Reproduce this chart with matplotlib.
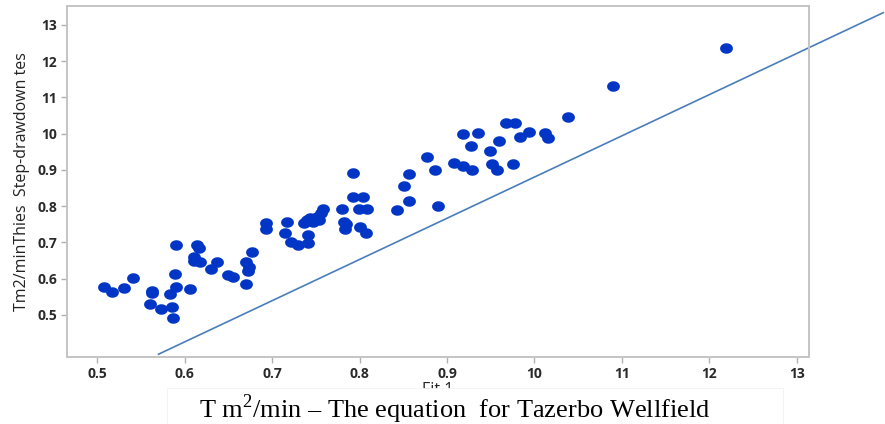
import numpy as np
import matplotlib
matplotlib.use("Agg")
import matplotlib.pyplot as plt
from matplotlib.path import Path
from matplotlib.patches import Rectangle
from matplotlib.font_manager import FontProperties

plt.rcParams["mathtext.fontset"] = "custom"
plt.rcParams["mathtext.rm"] = "Liberation Serif"

# fitted transmissivity (x) vs step-drawdown transmissivity (y)
fit_x = [0.508, 0.517, 0.531, 0.541, 0.563, 0.562, 0.560, 0.573, 0.583, 0.585,
         0.587, 0.590, 0.589, 0.590, 0.606, 0.614, 0.616, 0.611, 0.611, 0.618,
         0.630, 0.637, 0.650, 0.655, 0.670, 0.670, 0.673, 0.672, 0.677, 0.693,
         0.693, 0.717, 0.715, 0.721, 0.730, 0.741, 0.741, 0.736, 0.743, 0.747,
         0.753, 0.756, 0.758, 0.740, 0.751, 0.780, 0.782, 0.785, 0.783, 0.800,
         0.807, 0.792, 0.793, 0.804, 0.799, 0.808, 0.843, 0.856, 0.851, 0.857,
         0.877, 0.886, 0.890, 0.908, 0.918, 0.929, 0.918, 0.936, 0.927, 0.949,
         0.952, 0.957, 0.960, 0.968, 0.978, 0.994, 0.984, 0.976, 1.012, 1.016,
         1.038, 1.090, 1.219]
step_y = [0.576, 0.564, 0.575, 0.602, 0.567, 0.560, 0.530, 0.516, 0.558, 0.523,
          0.492, 0.578, 0.612, 0.694, 0.571, 0.694, 0.684, 0.661, 0.650, 0.646,
          0.626, 0.647, 0.610, 0.605, 0.586, 0.646, 0.633, 0.622, 0.674, 0.753,
          0.738, 0.756, 0.725, 0.701, 0.693, 0.698, 0.720, 0.753, 0.767, 0.757,
          0.762, 0.781, 0.792, 0.762, 0.771, 0.792, 0.757, 0.751, 0.738, 0.742,
          0.725, 0.893, 0.825, 0.825, 0.792, 0.792, 0.790, 0.814, 0.855, 0.889,
          0.937, 0.899, 0.800, 0.919, 0.910, 0.899, 0.999, 1.001, 0.967, 0.953,
          0.917, 0.900, 0.981, 1.030, 1.030, 1.005, 0.992, 0.917, 1.002, 0.989,
          1.047, 1.132, 1.237]

# reference line
line_x = [0.570, 1.399]
line_slope = 1.1365
line_icept = -0.256

xticks = [0.5, 0.6, 0.7, 0.8, 0.9, 1.0, 1.1, 1.2, 1.3]
xtick_labels = ["0.5", "0.6", "0.7", "0.8", "0.9", "10", "11", "12", "13"]
yticks = [0.5, 0.6, 0.7, 0.8, 0.9, 1.0, 1.1, 1.2, 1.3]
ytick_labels = ["0.5", "0.6", "0.7", "0.8", "0.9", "10", "11", "12", "13"]

fig = plt.figure(figsize=(8.85, 4.24), dpi=100)
ax = fig.add_axes([67 / 885, 67 / 424, 742 / 885, 351 / 424])

# slightly flattened dots like the original
t = np.linspace(0, 2 * np.pi, 40)
ell = Path(np.column_stack([np.cos(t), 0.8 * np.sin(t)]), closed=True)

lx = np.array(line_x)
ax.plot(lx, line_icept + line_slope * lx, color="#4a7ebb", lw=1.2,
        clip_on=False, zorder=2)
ax.plot(fit_x, step_y, ls="none", marker=ell, ms=8.2, color="#0035c5",
        mec="#0035c5", zorder=3)

ax.set_xlim(0.4653, 1.3141)
ax.set_ylim(0.3841, 1.3524)
ax.set_xticks(xticks)
ax.set_xticklabels(xtick_labels)
ax.set_yticks(yticks)
ax.set_yticklabels(ytick_labels)

tick_fp = FontProperties(family="Open Sans", weight="bold", size=10)
for lab in ax.get_xticklabels() + ax.get_yticklabels():
    lab.set_fontproperties(tick_fp)
    lab.set_color("#2a2a2a")

for s in ax.spines.values():
    s.set_color("#c4c4c4")
    s.set_linewidth(1.4)
ax.tick_params(direction="out", length=4, width=1, color="#b0b0b0", pad=3)

ax.set_ylabel("Tm2/minThies  Step-drawdown tes", family="Open Sans",
              size=11.5, color="#222222", labelpad=5)
ax.set_xlabel("Fit 1", family="Open Sans", size=11.5, color="#222222",
              labelpad=1)

# caption box laid over the axis title
fig.add_artist(Rectangle((167 / 885, 0), 616 / 885, 36 / 424,
                         transform=fig.transFigure, facecolor="white",
                         edgecolor="#f2f2f2", lw=0.6, zorder=5))
fig.text(199 / 885, 6 / 424, "T m$^{2}$/min \u2013 The equation  for Tazerbo Wellfield",
         family="Liberation Serif", size=19, va="baseline", ha="left",
         color="black", zorder=6)

fig.savefig("out.png", dpi=100)
